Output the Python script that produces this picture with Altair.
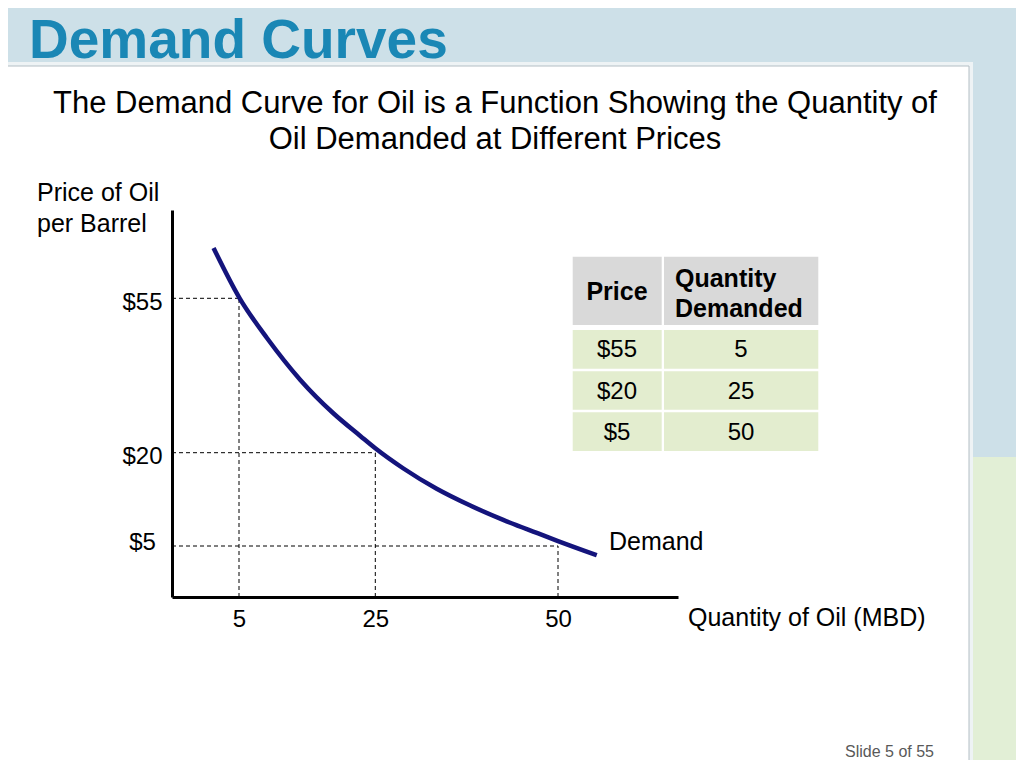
import altair as alt
import pandas as pd

# ---------------- data ----------------
quantity_ticks = [5, 25, 50]
price_ticks = [55, 20, 5]
table_prices = ["$55", "$20", "$5"]
table_quantities = ["5", "25", "50"]
table_header = ["Price", "Quantity", "Demanded"]

curve_quantity = [3.1, 5.1, 9.1, 14.0, 18.8, 22.8, 25.0, 28.8, 33.4, 38.0, 42.5, 47.1, 50.0, 55.3]
curve_price = [66.4, 55.0, 46.0, 36.5, 29.0, 23.8, 21.0, 17.5, 14.2, 11.5, 9.2, 7.1, 5.8, 4.1]

title_text = "Demand Curves"
subtitle_lines = ["The Demand Curve for Oil is a Function Showing the Quantity of",
                  "Oil Demanded at Different Prices"]
y_title_lines = ["Price of Oil", "per Barrel"]
x_title = "Quantity of Oil (MBD)"
curve_label = "Demand"
slide_number = "Slide 5 of 55"

# ---------------- layout / style ----------------
FONT = "Liberation Sans"
OX, OY = 172, 210          # page position of the plot origin (top-left of the view)
W, H = 506, 387
TOTAL_W, TOTAL_H = 1008, 752

def px(x):
    return x - OX

def py(y):
    return y - OY

dummy = pd.DataFrame({"d": [0]})

xs = alt.Scale(domain=[0, 5, 25, 50, 66.4], range=[0, 67, 203.3, 386, W], nice=False, zero=False)
ys = alt.Scale(domain=[0, 5, 20, 55, 75], range=[H, 336, 242.7, 88.3, 0], nice=False, zero=False)

x_axis = alt.Axis(values=quantity_ticks, title="", grid=False, ticks=False, tickSize=0,
                  domainColor="black", domainWidth=3, labelFont=FONT, labelFontSize=24,
                  labelColor="black", labelPadding=10, labelFlush=False, labelOverlap=False,
                  zindex=1)
y_axis = alt.Axis(values=price_ticks, title="", grid=False, ticks=False, tickSize=0,
                  domainColor="black", domainWidth=3, labelFont=FONT, labelFontSize=24,
                  labelColor="black", labelPadding=30, labelAlign="center",
                  labelBaseline="middle",
                  labelOffset={"condition": {"test": "datum.value == 5", "value": -4}, "value": 4},
                  labelExpr="'$' + datum.value",
                  labelOverlap=False, zindex=1)


def X(field):
    return alt.X(field, type="quantitative", scale=xs, axis=x_axis)


def Y(field):
    return alt.Y(field, type="quantitative", scale=ys, axis=y_axis)


def box(x0, y0, x1, y1, fill, stroke="transparent", sw=0):
    return alt.Chart(dummy).mark_rect(fill=fill, stroke=stroke, strokeWidth=sw).encode(
        x=alt.value(px(x0)), x2=alt.value(px(x1)), y=alt.value(py(y0)), y2=alt.value(py(y1)))


def label(text, x, y, size, align="left", weight="normal", color="black"):
    return alt.Chart(dummy).mark_text(text=text, font=FONT, fontSize=size, align=align,
                                      baseline="alphabetic", fontWeight=weight, color=color).encode(
        x=alt.value(px(x)), y=alt.value(py(y)))


# ---------------- slide background ----------------
bg_blue = box(0, 0, 1030, 780, "#cde0e8")
bg_green = box(972, 457, 1030, 780, "#e2efd6")
panel_outer = box(-10, 62, 973, 790, "#eef3f5")
panel = box(-10, 66, 969, 790, "white", stroke="#b3bec4", sw=1)

# ---------------- plot ----------------
guides = pd.DataFrame({"q": quantity_ticks, "p": price_ticks, "zero": [0, 0, 0]})
curve = pd.DataFrame({"q": curve_quantity, "p": curve_price})

h_dash = alt.Chart(guides).mark_rule(color="black", strokeWidth=1, strokeDash=[4, 3]).encode(
    x=X("zero"), x2="q:Q", y=Y("p"))
v_dash = alt.Chart(guides).mark_rule(color="black", strokeWidth=1, strokeDash=[4, 3]).encode(
    x=X("q"), y=Y("zero"), y2="p:Q")
line = alt.Chart(curve).mark_line(color="#14147c", strokeWidth=4.5, interpolate="monotone").encode(
    x=X("q"), y=Y("p"))

plot = alt.layer(h_dash, v_dash, line)

# ---------------- table ----------------
tdf = pd.DataFrame({"price": table_prices, "qty": table_quantities})
ty = alt.Y("price:N", scale=alt.Scale(domain=table_prices, range=[py(330), py(451)],
                                      paddingInner=0.06, paddingOuter=0), axis=None)
cell1 = alt.Chart(tdf).mark_rect(color="#e3edcf").encode(y=ty, x=alt.value(px(572.7)), x2=alt.value(px(661.7)))
cell2 = alt.Chart(tdf).mark_rect(color="#e3edcf").encode(y=ty, x=alt.value(px(664)), x2=alt.value(px(818.3)))
txt1 = alt.Chart(tdf).mark_text(font=FONT, fontSize=24, color="black", baseline="middle", dy=1).encode(
    y=ty, x=alt.value(px(617)), text="price:N")
txt2 = alt.Chart(tdf).mark_text(font=FONT, fontSize=24, color="black", baseline="middle", dy=1).encode(
    y=ty, x=alt.value(px(741)), text="qty:N")
table = alt.layer(cell1, cell2, txt1, txt2)

head1 = box(572.7, 256.7, 661.7, 325, "#d9d9d9")
head2 = box(664, 256.7, 818.3, 325, "#d9d9d9")
h_price = label(table_header[0], 617, 300, 25, align="center", weight="bold")
h_qty1 = label(table_header[1], 675, 287, 25, weight="bold")
h_qty2 = label(table_header[2], 675, 317, 25, weight="bold")

# ---------------- texts ----------------
t_title = label(title_text, 29, 58, 55, weight="bold", color="#1a87b5")
t_sub1 = label(subtitle_lines[0], 495, 113, 31, align="center")
t_sub2 = label(subtitle_lines[1], 495, 149, 31, align="center")
t_y1 = label(y_title_lines[0], 37, 201, 25)
t_y2 = label(y_title_lines[1], 37, 232, 25)
t_x = label(x_title, 688, 626, 25)
t_dem = label(curve_label, 609, 550, 25)
t_slide = label(slide_number, 934, 757, 16, align="right", color="#595959")

chart = alt.layer(
    bg_blue, bg_green, panel_outer, panel,
    plot, table,
    head1, head2, h_price, h_qty1, h_qty2,
    t_title, t_sub1, t_sub2, t_y1, t_y2, t_x, t_dem, t_slide,
).resolve_scale(x="independent", y="independent").properties(
    width=W, height=H,
    padding={"left": OX - 8, "top": OY - 8, "right": TOTAL_W - (OX - 8) - W,
             "bottom": TOTAL_H - (OY - 8) - H},
    autosize=alt.AutoSizeParams(type="none"),
    background="white",
).configure_view(strokeWidth=0)

chart.save("out.html", embed_options={"renderer": "svg", "actions": False})
